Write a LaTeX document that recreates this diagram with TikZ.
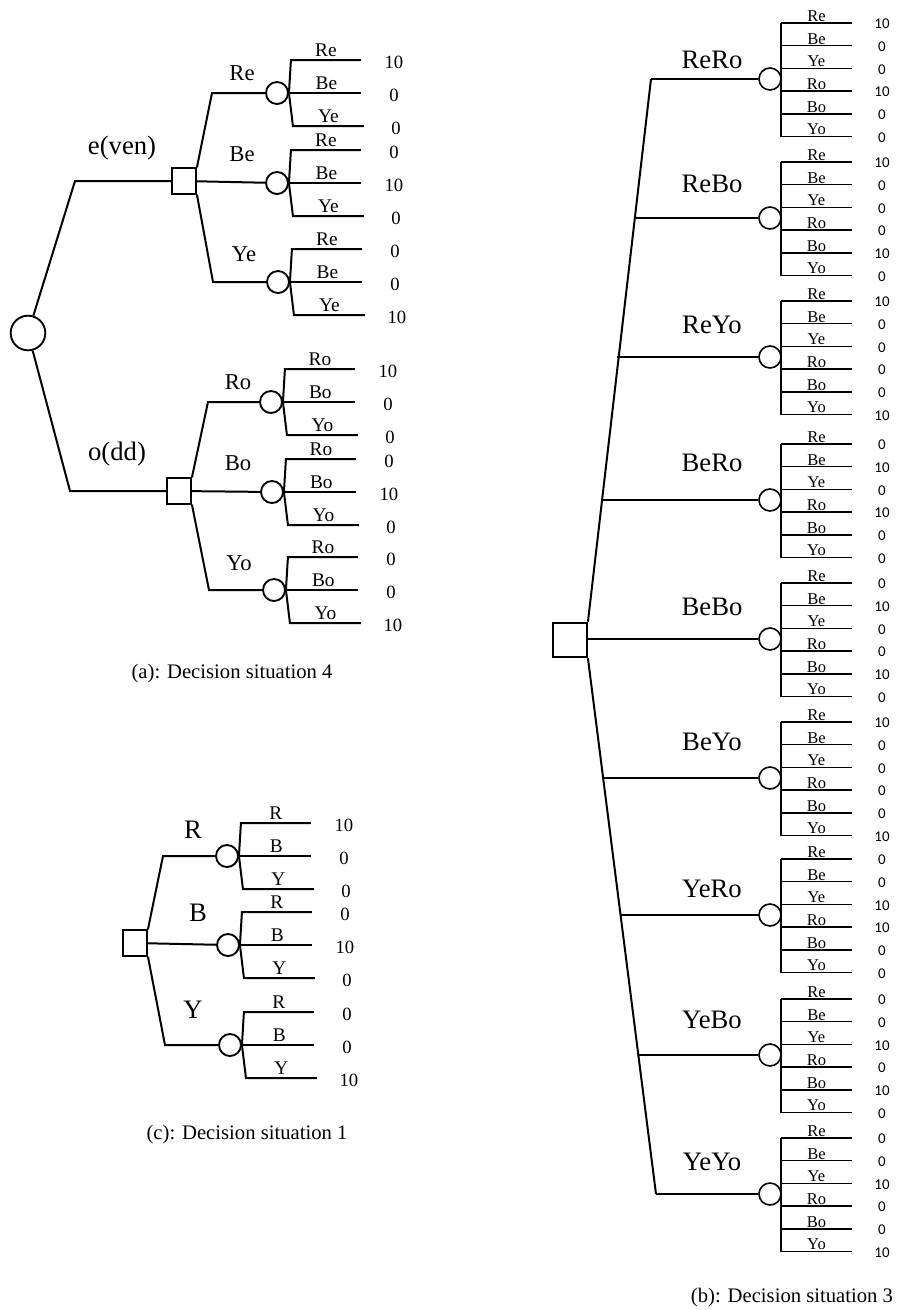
\documentclass[tikz,border=0pt]{standalone}
\usepackage{fontspec}
\setmainfont{Liberation Serif}
\newfontfamily\payofffont{Carlito}
\usetikzlibrary{positioning}

\tikzset{
  chance/.style={circle, draw, fill=white, inner sep=0pt, minimum size=16.5pt, line width=1.4pt},
  decision/.style={rectangle, draw, fill=white, inner sep=0pt, minimum width=18pt, minimum height=19pt, line width=1.4pt},
  branchtxt/.style={inner sep=0pt, font=\fontsize{17}{20}\selectfont},
  movetxt/.style={inner sep=0pt, font=\fontsize{20}{24}\selectfont},
  leaftxt/.style={inner sep=0pt, above=2pt, font=\fontsize{14.5}{17}\selectfont},
  valtxt/.style={inner sep=0pt, font=\fontsize{14}{17}\selectfont},
  smallleaf/.style={inner sep=0pt, above=0.5pt, font=\fontsize{12.4}{15}\selectfont},
  payoff/.style={inner sep=0pt, font=\payofffont\fontsize{11.2}{13}\selectfont},
  captxt/.style={inner sep=0pt, font=\fontsize{15.5}{18}\selectfont},
}

\begin{document}
\begin{tikzpicture}[x=0.75pt,y=0.75pt,yscale=-1,xscale=1, line width=1.5pt]
\useasboundingbox (0,0) rectangle (898,1310);

% (a): root chance node, even / odd
\node[chance, minimum size=26pt] (root) at (28,333) {};
\node[decision] (even) at (184,181) {};
\node[decision] (odd) at (179,491) {};
\coordinate (keven) at (75,181);
\coordinate (kodd) at (70,491);
\draw (root) -- (keven) -- (even);
\draw (root) -- (kodd) -- (odd);
\node[movetxt] (leven) at (122,148) {e(ven)};
\node[movetxt] (lodd) at (117,454) {o(dd)};

% (a): guesses after even
\node[chance] (eR) at (277,93) {};
\node[chance] (eB) at (277,183) {};
\node[chance] (eY) at (278,282) {};
\coordinate (keR) at (212,93);
\coordinate (keY) at (213,282);
\draw (even.north east) -- (keR) -- (eR);
\draw (even) -- (eB);
\draw (even.south east) -- (keY) -- (eY);
\node[branchtxt] (leR) at (242,73) {Re};
\node[branchtxt] (leB) at (242,154) {Be};
\node[branchtxt] (leY) at (244,254) {Ye};

% (a): guesses after odd
\node[chance] (oR) at (271,402) {};
\node[chance] (oB) at (272,492) {};
\node[chance] (oY) at (274,590) {};
\coordinate (koR) at (208,402);
\coordinate (koY) at (209,590);
\draw (odd.north east) -- (koR) -- (oR);
\draw (odd) -- (oB);
\draw (odd.south east) -- (koY) -- (oY);
\node[branchtxt] (loR) at (238,382) {Ro};
\node[branchtxt] (loB) at (238,463) {Bo};
\node[branchtxt] (loY) at (239,563) {Yo};

\node[captxt] (capa) at (232,674) {(a): Decision situation 4};

% (c): decision situation 1
\node[decision] (one) at (135,943) {};
\node[chance] (cR) at (227,856) {};
\node[chance] (cB) at (228,945) {};
\node[chance] (cY) at (230,1045) {};
\coordinate (kcR) at (163,856);
\coordinate (kcY) at (165,1045);
\draw (one.north east) -- (kcR) -- (cR);
\draw (one) -- (cB);
\draw (one.south east) -- (kcY) -- (cY);
\node[movetxt] (lcR) at (193,830) {R};
\node[movetxt] (lcB) at (198,913) {B};
\node[movetxt] (lcY) at (193,1010) {Y};

\node[captxt] (capc) at (247,1135) {(c): Decision situation 1};

% three-way fans of (a) and (c)
\foreach \c/\la/\lb/\lc/\va/\vb/\vc in {eR/Re/Be/Ye/10/0/0, eB/Re/Be/Ye/0/10/0, eY/Re/Be/Ye/0/0/10,
    oR/Ro/Bo/Yo/10/0/0, oB/Ro/Bo/Yo/0/10/0, oY/Ro/Bo/Yo/0/0/10,
    cR/R/B/Y/10/0/0, cB/R/B/Y/0/10/0, cY/R/B/Y/0/0/10}{
  \coordinate (\c1) at ([shift={(2,-33)}]\c.east);
  \coordinate (\c1e) at ([shift={(72,-33)}]\c.east);
  \coordinate (\c2e) at ([shift={(72,0)}]\c.east);
  \coordinate (\c3) at ([shift={(4,33)}]\c.east);
  \coordinate (\c3e) at ([shift={(75,33)}]\c.east);
  \draw (\c.east) -- (\c1) -- (\c1e) node[leaftxt, midway] (\c1l) {\la};
  \draw (\c.east) -- (\c2e) node[leaftxt, pos=0.52] (\c2l) {\lb};
  \draw (\c.east) -- (\c3) -- (\c3e) node[leaftxt, midway] (\c3l) {\lc};
  \node[valtxt] (\c1v) at ([shift={(33,2)}]\c1e) {\va};
  \node[valtxt] (\c2v) at ([shift={(33,2)}]\c2e) {\vb};
  \node[valtxt] (\c3v) at ([shift={(32,2)}]\c3e) {\vc};
}

% (b): decision situation 3
\node[decision, minimum width=25.5pt, minimum height=26pt] (three) at (570,640) {};
\coordinate (sptop) at (651,79);
\coordinate (spbot) at (656,1194);
\draw (three.north east) -- (sptop);
\draw (three.south east) -- (spbot);

\foreach \nm/\sx/\y/\dy/\va/\vb/\vc/\vd/\ve/\vf in {
    ReRo/651/79/19/10/0/0/10/0/0,
    ReBo/634/218/34/10/0/0/0/10/0,
    ReYo/617/357/32/10/0/0/0/0/10,
    BeRo/601/500/37/0/10/0/10/0/0,
    BeBo/587/639/32/0/10/0/0/10/0,
    BeYo/603/778/36/10/0/0/0/0/10,
    YeRo/620/915/26/0/0/10/10/0/0,
    YeBo/638/1055/35/0/0/10/0/10/0,
    YeYo/656/1194/32/0/0/10/0/0/10}{
  \coordinate (sp\nm) at (\sx,\y);
  \node[chance, line width=1.2pt] (ch\nm) at (770,\y) {};
  \draw (sp\nm) -- (ch\nm);
  \node[movetxt] (l\nm) at (712,\y-\dy) {\nm};
  \begin{scope}[line width=1.1pt]
    \foreach \lab/\v [count=\i] in {Re/\va,Be/\vb,Ye/\vc,Ro/\vd,Bo/\ve,Yo/\vf}{
      \coordinate (\nm s\i) at (781,\y-56+22.7*\i-22.7);
      \coordinate (\nm e\i) at (852,\y-56+22.7*\i-22.7);
      \draw (\nm s\i) -- (\nm e\i) node[smallleaf, midway] (\nm l\i) {\lab};
      \node[payoff] (\nm v\i) at (882,\y-55+22.7*\i-22.7) {\v};
    }
    \draw (\nm s1) -- (\nm s6);
  \end{scope}
}

\node[captxt] (capb) at (792,1298) {(b): Decision situation 3};

\end{tikzpicture}
\end{document}
